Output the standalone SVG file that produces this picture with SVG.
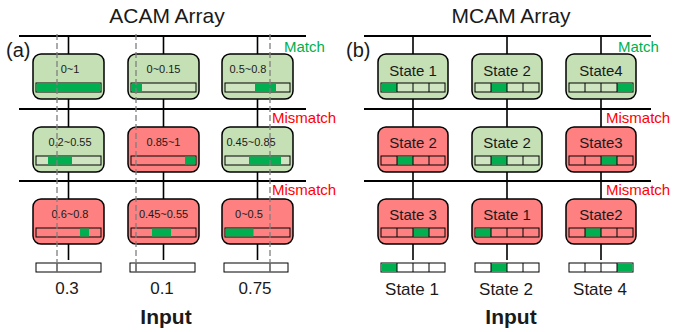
<svg xmlns="http://www.w3.org/2000/svg" width="674" height="332" viewBox="0 0 674 332">
<style>
text{font-family:"Liberation Sans",Arial,sans-serif;fill:#1a1a1a}
.title{font-size:21px;text-anchor:middle}
.lab{font-size:20px}
.cv{font-size:11px;text-anchor:middle}
.st{font-size:15px;text-anchor:middle}
.in{font-size:17px;text-anchor:middle}
.inb{font-size:21px;font-weight:bold;text-anchor:middle}
.m{font-size:15px;fill:#00B050}
.mm{font-size:15px;fill:#FF0000}
.g{fill:#C5E0B4;stroke:#000;stroke-width:1.5}
.r{fill:#FF8080;stroke:#000;stroke-width:1.5}
.bg{fill:#CFE5C1;stroke:#000;stroke-width:1}
.br{fill:#FF8080;stroke:#000;stroke-width:1}
.bw{fill:#fff;stroke:#000;stroke-width:1}
.dk{fill:#00B050}
.seg{fill:none;stroke:#000;stroke-width:1}
.ml{stroke:#000;stroke-width:1.8;fill:none}
.vl{stroke:#000;stroke-width:1.6;fill:none}
.dl{stroke:#7f7f7f;stroke-width:1.3;stroke-dasharray:6,3;fill:none}
</style>
<defs>
<g id="seg4"><path class="seg" d="M16,0V9M32,0V9M48,0V9"/></g>
</defs>

<!-- Titles & labels -->
<text class="title" x="167" y="23">ACAM Array</text>
<text class="title" x="511" y="23">MCAM Array</text>
<text class="lab" x="6" y="57">(a)</text>
<text class="lab" x="346" y="57">(b)</text>
<text class="m" x="284" y="52">Match</text>
<text class="mm" x="272" y="123">Mismatch</text>
<text class="mm" x="272" y="195">Mismatch</text>
<text class="m" x="618" y="52">Match</text>
<text class="mm" x="606" y="123">Mismatch</text>
<text class="mm" x="606" y="195">Mismatch</text>

<!-- Connectors -->
<g id="connectors">
<path class="ml" d="M19,36H306M19,109H306M19,181H306"/>
<path class="vl" d="M68.5,36V54M68.5,99V127M68.5,172V199M68.5,244V260"/>
<path class="vl" d="M163.5,36V54M163.5,99V127M163.5,172V199M163.5,244V260"/>
<path class="vl" d="M257.5,36V54M257.5,99V127M257.5,172V199M257.5,244V260"/>
<path class="ml" d="M364,36H651M364,109H651M364,181H651"/>
<path class="vl" d="M413,36V54M413,99V127M413,172V199M413,244V260"/>
<path class="vl" d="M507,36V54M507,99V127M507,172V199M507,244V260"/>
<path class="vl" d="M601,36V54M601,99V127M601,172V199M601,244V260"/>
</g>

<!-- ACAM cells -->
<g id="a11"><rect class="g" x="33" y="54" width="71" height="45" rx="8"/><text class="cv" x="70" y="73">0~1</text><rect class="bg" x="36" y="83" width="65" height="9"/><rect class="dk" x="36.5" y="83.5" width="64" height="8"/></g>
<g id="a12"><rect class="g" x="128" y="54" width="71" height="45" rx="8"/><text class="cv" x="163.5" y="73">0~0.15</text><rect class="bg" x="131" y="83" width="65" height="9"/><rect class="dk" x="131.5" y="83.5" width="10.5" height="8"/></g>
<g id="a13"><rect class="g" x="222" y="54" width="71" height="45" rx="8"/><text class="cv" x="248" y="73">0.5~0.8</text><rect class="bg" x="225" y="83" width="65" height="9"/><rect class="dk" x="255" y="83.5" width="21" height="8"/></g>

<g id="a21"><rect class="g" x="33" y="127" width="71" height="45" rx="8"/><text class="cv" x="70" y="146">0.2~0.55</text><rect class="bg" x="36" y="156" width="65" height="9"/><rect class="dk" x="48" y="156.5" width="24" height="8"/></g>
<g id="a22"><rect class="r" x="128" y="127" width="71" height="45" rx="8"/><text class="cv" x="163.5" y="146">0.85~1</text><rect class="br" x="131" y="156" width="65" height="9"/><rect class="dk" x="185" y="156.5" width="10.5" height="8"/></g>
<g id="a23"><rect class="g" x="222" y="127" width="71" height="45" rx="8"/><text class="cv" x="251" y="146">0.45~0.85</text><rect class="bg" x="225" y="156" width="65" height="9"/><rect class="dk" x="249" y="156.5" width="32" height="8"/></g>

<g id="a31"><rect class="r" x="33" y="199" width="71" height="45" rx="8"/><text class="cv" x="70" y="218">0.6~0.8</text><rect class="br" x="36" y="228" width="65" height="9"/><rect class="dk" x="80" y="228.5" width="9" height="8"/></g>
<g id="a32"><rect class="r" x="128" y="199" width="71" height="45" rx="8"/><text class="cv" x="163.5" y="218">0.45~0.55</text><rect class="br" x="131" y="228" width="65" height="9"/><rect class="dk" x="152" y="228.5" width="19" height="8"/></g>
<g id="a33"><rect class="r" x="222" y="199" width="71" height="45" rx="8"/><text class="cv" x="249" y="218">0~0.5</text><rect class="br" x="225" y="228" width="65" height="9"/><rect class="dk" x="225.5" y="228.5" width="28" height="8"/></g>

<!-- ACAM inputs -->
<g id="ain1"><rect class="bw" x="36" y="263" width="65" height="9"/><path class="seg" d="M57,263V272"/><text class="in" x="67" y="294">0.3</text></g>
<g id="ain2"><rect class="bw" x="130" y="263" width="65" height="9"/><path class="seg" d="M136,263V272"/><text class="in" x="162" y="294">0.1</text></g>
<g id="ain3"><rect class="bw" x="224" y="263" width="64" height="9"/><path class="seg" d="M270,263V272"/><text class="in" x="255" y="294">0.75</text></g>
<text class="inb" x="166" y="324">Input</text>

<!-- dashed input lines -->
<g id="dashes">
<path class="dl" d="M57,34V272M136,34V272M270,34V272"/>
</g>

<!-- MCAM cells -->
<g id="b11"><rect class="g" x="378" y="54" width="70" height="45" rx="8"/><text class="st" x="413" y="76">State 1</text><rect class="bg" x="381" y="83" width="64" height="9"/><rect class="dk" x="381.5" y="83.5" width="15.5" height="8"/><use href="#seg4" x="381" y="83"/></g>
<g id="b12"><rect class="g" x="472" y="54" width="70" height="45" rx="8"/><text class="st" x="507" y="76">State 2</text><rect class="bg" x="475" y="83" width="64" height="9"/><rect class="dk" x="491" y="83.5" width="16" height="8"/><use href="#seg4" x="475" y="83"/></g>
<g id="b13"><rect class="g" x="566" y="54" width="70" height="45" rx="8"/><text class="st" x="601" y="76">State4</text><rect class="bg" x="569" y="83" width="64" height="9"/><rect class="dk" x="617" y="83.5" width="15.5" height="8"/><use href="#seg4" x="569" y="83"/></g>

<g id="b21"><rect class="r" x="378" y="127" width="70" height="45" rx="8"/><text class="st" x="413" y="148">State 2</text><rect class="br" x="381" y="156" width="64" height="9"/><rect class="dk" x="397" y="156.5" width="16" height="8"/><use href="#seg4" x="381" y="156"/></g>
<g id="b22"><rect class="g" x="472" y="127" width="70" height="45" rx="8"/><text class="st" x="507" y="148">State 2</text><rect class="bg" x="475" y="156" width="64" height="9"/><rect class="dk" x="491" y="156.5" width="16" height="8"/><use href="#seg4" x="475" y="156"/></g>
<g id="b23"><rect class="r" x="566" y="127" width="70" height="45" rx="8"/><text class="st" x="601" y="148">State3</text><rect class="br" x="569" y="156" width="64" height="9"/><rect class="dk" x="601" y="156.5" width="16" height="8"/><use href="#seg4" x="569" y="156"/></g>

<g id="b31"><rect class="r" x="378" y="199" width="70" height="45" rx="8"/><text class="st" x="413" y="220">State 3</text><rect class="br" x="381" y="228" width="64" height="9"/><rect class="dk" x="413" y="228.5" width="16" height="8"/><use href="#seg4" x="381" y="228"/></g>
<g id="b32"><rect class="r" x="472" y="199" width="70" height="45" rx="8"/><text class="st" x="507" y="220">State 1</text><rect class="br" x="475" y="228" width="64" height="9"/><rect class="dk" x="475.5" y="228.5" width="15.5" height="8"/><use href="#seg4" x="475" y="228"/></g>
<g id="b33"><rect class="r" x="566" y="199" width="70" height="45" rx="8"/><text class="st" x="601" y="220">State2</text><rect class="br" x="569" y="228" width="64" height="9"/><rect class="dk" x="585" y="228.5" width="16" height="8"/><use href="#seg4" x="569" y="228"/></g>

<!-- MCAM inputs -->
<g id="bin1"><rect class="bw" x="381" y="263" width="64" height="9"/><rect class="dk" x="381.5" y="263.5" width="15.5" height="8"/><use href="#seg4" x="381" y="263"/><text class="in" x="412" y="295">State 1</text></g>
<g id="bin2"><rect class="bw" x="475" y="263" width="64" height="9"/><rect class="dk" x="491" y="263.5" width="16" height="8"/><use href="#seg4" x="475" y="263"/><text class="in" x="506" y="295">State 2</text></g>
<g id="bin3"><rect class="bw" x="569" y="263" width="64" height="9"/><rect class="dk" x="617" y="263.5" width="15.5" height="8"/><use href="#seg4" x="569" y="263"/><text class="in" x="600" y="295">State 4</text></g>
<text class="inb" x="511" y="324">Input</text>
</svg>
